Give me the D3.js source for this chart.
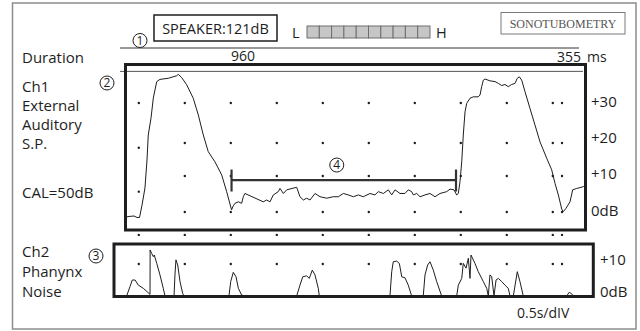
<!DOCTYPE html>
<html>
<head>
<meta charset="utf-8">
<script src="https://cdn.jsdelivr.net/npm/d3@7"></script>
<style>
  html, body { margin: 0; padding: 0; background: #fff; }
  svg { display: block; font-family: "Open Sans", sans-serif; }
</style>
</head>
<body>
<div id="chart"></div>
<script>
// ---- data ----
// Ch1: external auditory sound pressure, time in s, level in dB
const ch1Time = [0.000, 0.054, 0.098, 0.130, 0.158, 0.185, 0.217, 0.239, 0.253, 0.283,
  0.308, 0.345, 0.380, 0.471, 0.562, 0.579, 0.616, 0.671, 0.742, 0.797,
  0.851, 0.905, 0.978, 1.051, 1.105, 1.158, 1.177, 1.196, 1.232, 1.268,
  1.286, 1.304, 1.503, 1.540, 1.576, 1.612, 1.666, 1.685, 1.721, 1.758,
  1.866, 1.902, 1.938, 1.975, 2.011, 2.065, 2.120, 2.192, 2.264, 2.318,
  2.373, 2.427, 2.482, 2.536, 2.590, 2.663, 2.717, 2.753, 2.808, 2.862,
  2.899, 2.935, 2.989, 3.043, 3.079, 3.116, 3.134, 3.171, 3.207, 3.261,
  3.315, 3.370, 3.424, 3.497, 3.533, 3.576, 3.605, 3.623, 3.641, 3.660,
  3.677, 3.696, 3.714, 3.750, 3.786, 3.840, 3.859, 3.877, 3.895, 3.913,
  3.967, 4.022, 4.058, 4.095, 4.130, 4.166, 4.203, 4.239, 4.264, 4.286,
  4.312, 4.348, 4.402, 4.457, 4.511, 4.584, 4.638, 4.674, 4.710, 4.747,
  4.764, 4.793, 4.837, 4.866, 4.910, 4.946, 4.982, 5.008];
const ch1Db = [-1.4, -1.2, -1.1, -1.5, -1.5, 1.9, 6.6, 14.3, 21.2, 25.9,
  31.4, 35.9, 36.5, 36.8, 37.5, 37.9, 37.0, 35.0, 31.3, 26.7,
  21.2, 16.6, 13.8, 10.2, 5.6, 0.6, 1.7, 2.4, 2.8, 2.4,
  4.2, 5.1, 2.8, 3.3, 2.8, 4.7, 5.6, 6.5, 5.1, 6.1,
  6.8, 4.2, 3.3, 3.8, 3.3, 5.1, 4.2, 3.8, 4.2, 4.2,
  5.1, 4.7, 4.2, 4.7, 4.2, 5.1, 4.7, 5.6, 5.1, 6.1,
  4.7, 6.1, 5.1, 5.1, 6.1, 5.6, 4.7, 5.1, 4.2, 4.7,
  5.1, 4.2, 5.1, 5.6, 6.3, 6.1, 4.7, 5.1, 8.3, 13.8,
  21.2, 27.6, 29.9, 31.3, 31.7, 31.7, 32.2, 34.5, 36.3, 36.6,
  36.1, 35.9, 35.4, 34.8, 35.1, 34.5, 35.1, 35.4, 36.8, 37.2,
  36.3, 33.1, 28.5, 23.9, 19.3, 14.8, 11.6, 7.9, 4.7, 0.8,
  0.1, 1.0, 2.8, 6.1, 6.5, 6.7, 7.0, 7.2];

// Ch2: pharynx noise
const ch2Time = [0.018, 0.054, 0.079, 0.109, 0.145, 0.199, 0.242, 0.272, 0.273, 0.290,
  0.308, 0.318, 0.345, 0.380, 0.416, 0.435, 0.533, 0.543, 0.554, 0.573,
  0.598, 0.627, 0.641, 1.130, 1.149, 1.177, 1.207, 1.232, 1.268, 1.304,
  1.866, 1.902, 1.932, 1.975, 2.003, 2.036, 2.065, 2.101, 2.112, 2.880,
  2.899, 2.916, 2.953, 2.982, 3.008, 3.043, 3.079, 3.116, 3.242, 3.261,
  3.290, 3.315, 3.351, 3.388, 3.442, 3.605, 3.623, 3.660, 3.677, 3.707,
  3.732, 3.750, 3.761, 3.804, 3.840, 3.895, 3.932, 3.949, 3.967, 3.986,
  4.011, 4.033, 4.058, 4.095, 4.130, 4.166, 4.185, 4.221, 4.264, 4.293,
  4.329, 4.801, 4.829, 4.862, 4.873];
const ch2Db = [0, 2.9, 5.0, 5.0, 3.4, 2.4, 1.3, 0.5, 14.4, 13.3,
  12.3, 12.8, 10.2, 6.6, 2.4, 0, 0, 6.6, 11.3, 9.7,
  4.5, 0.8, 0, 0, 4.5, 7.4, 6.0, 2.4, 0.3, 0,
  0, 3.4, 6.0, 6.3, 5.5, 8.1, 6.6, 2.4, 0, 0,
  7.6, 10.7, 10.9, 10.2, 6.0, 5.7, 3.4, 0, 0, 6.6,
  9.7, 10.7, 8.1, 4.5, 0, 0, 3.4, 5.5, 10.2, 8.7,
  11.8, 5.5, 12.8, 10.2, 7.6, 4.5, 2.4, 0, 6.6, 6.0,
  0, 5.0, 5.5, 4.5, 3.4, 2.4, 0, 0, 7.6, 4.5,
  0, 0, 1.2, 0.5, 0];

// grid dots
const dotCols = [0.15, 0.65, 1.15, 1.65, 2.15, 2.65, 3.15, 3.65, 4.15, 4.65, 4.75];
const ch1DotRows = [0, 9.9, 19, 30];
const ch1FirstColRows = [5.6, 17.7, 30];
const gapDotRow = -6.3;
const ch2DotRows = [10];

// axis labels
const ch1Ticks = [30, 20, 10, 0];
const ch1TickLabels = ["+30", "+20", "+10", "0dB"];
const ch2Ticks = [10, 0];
const ch2TickLabels = ["+10", "0dB"];

// plateau-to-plateau interval (4)
const bracketStart = 1.158, bracketEnd = 3.598, bracketDb = 8.8;
const ceilingDb = 38.7;

const leftLabels1 = ["Ch1", "External", "Auditory", "S.P."];
const leftLabels2 = ["Ch2", "Phanynx", "Noise"];
const levelCells = 10;

// ---- drawing ----
const W = 640, H = 331;
const ink = "#1e1e1e";

const svg = d3.select("#chart").append("svg")
  .attr("width", W).attr("height", H)
  .attr("viewBox", `0 0 ${W} ${H}`);

svg.append("rect").attr("width", W).attr("height", H).attr("fill", "#fff");

const x = d3.scaleLinear().domain([0, 5]).range([125, 585]);
const y1 = d3.scaleLinear().domain([0, 30]).range([212, 103]);
const y2 = d3.scaleLinear().domain([0, 10]).range([296, 264]);

// outer frame
svg.append("rect")
  .attr("x", 12.5).attr("y", 3).attr("width", 623.5).attr("height", 326)
  .attr("fill", "none").attr("stroke", "#8c8c8c").attr("stroke-width", 1.5);

const circled = (cx, cy, num) => {
  svg.append("circle").attr("cx", cx).attr("cy", cy).attr("r", 7)
    .attr("fill", "none").attr("stroke", ink).attr("stroke-width", 1);
  svg.append("text").attr("x", cx).attr("y", cy + 4.2)
    .attr("text-anchor", "middle").attr("font-size", 12).attr("fill", ink)
    .text(num);
};

// header
circled(140, 40.5, "1");
svg.append("rect").attr("x", 154).attr("y", 15).attr("width", 123).attr("height", 26)
  .attr("fill", "none").attr("stroke", ink).attr("stroke-width", 1.5);
svg.append("text").attr("x", 215.5).attr("y", 33.5).attr("text-anchor", "middle")
  .attr("font-size", 14.5).attr("fill", ink).text("SPEAKER:121dB");
svg.append("text").attr("x", 292).attr("y", 37.5).attr("font-size", 14.5)
  .attr("fill", ink).text("L");
svg.append("text").attr("x", 436).attr("y", 37.5).attr("font-size", 14.5)
  .attr("fill", ink).text("H");

const cellX = d3.scaleBand().domain(d3.range(levelCells)).range([307, 430]);
svg.append("g").selectAll("rect").data(d3.range(levelCells)).join("rect")
  .attr("x", d => cellX(d)).attr("y", 26)
  .attr("width", cellX.bandwidth()).attr("height", 12)
  .attr("fill", "#c6c6c6").attr("stroke", "#6e6e6e").attr("stroke-width", 1);

svg.append("rect").attr("x", 501).attr("y", 12.5).attr("width", 124).attr("height", 21.5)
  .attr("fill", "none").attr("stroke", "#7a7a7a").attr("stroke-width", 1);
svg.append("text").attr("x", 563).attr("y", 27.5).attr("text-anchor", "middle")
  .attr("font-family", "'Liberation Serif', 'DejaVu Serif', serif")
  .attr("font-size", 12).attr("fill", "#555").text("SONOTUBOMETRY");

// duration line
svg.append("line").attr("x1", 120).attr("x2", 579).attr("y1", 48).attr("y2", 48)
  .attr("stroke", "#333").attr("stroke-width", 1);
svg.append("text").attr("x", 22).attr("y", 63).attr("font-size", 15)
  .attr("fill", ink).text("Duration");
svg.append("text").attr("x", 243).attr("y", 61).attr("text-anchor", "middle")
  .attr("font-size", 14).attr("fill", ink).text("960");
svg.append("text").attr("x", 557).attr("y", 62).attr("font-size", 14)
  .attr("fill", ink).text("355");
svg.append("text").attr("x", 587).attr("y", 62).attr("font-size", 14)
  .attr("fill", ink).text("ms");

// left labels
svg.append("g").selectAll("text").data(leftLabels1).join("text")
  .attr("x", 22).attr("y", (d, i) => 92 + i * 19)
  .attr("font-size", 15).attr("fill", ink).text(d => d);
svg.append("text").attr("x", 22).attr("y", 198).attr("font-size", 15)
  .attr("fill", ink).text("CAL=50dB");
svg.append("g").selectAll("text").data(leftLabels2).join("text")
  .attr("x", 22).attr("y", (d, i) => 257 + i * 20)
  .attr("font-size", 15).attr("fill", ink).text(d => d);
circled(107, 83, "2");
circled(96, 256, "3");

// ---- Ch1 panel ----
svg.append("line")
  .attr("x1", x(-0.054)).attr("x2", x(4.978))
  .attr("y1", y1(ceilingDb)).attr("y2", y1(ceilingDb))
  .attr("stroke", "#555").attr("stroke-width", 1);

const dots1 = [];
dotCols.forEach((c, i) => {
  const rows = i === 0 ? ch1FirstColRows : ch1DotRows;
  rows.forEach(r => dots1.push([c, r]));
});
svg.append("g").selectAll("circle").data(dots1).join("circle")
  .attr("cx", d => x(d[0])).attr("cy", d => y1(d[1])).attr("r", 1.2).attr("fill", ink);
svg.append("g").selectAll("circle").data(dotCols).join("circle")
  .attr("cx", d => x(d)).attr("cy", y1(gapDotRow)).attr("r", 1.2).attr("fill", ink);

const line1 = d3.line().x(d => x(d[0])).y(d => y1(d[1]));
svg.append("path").datum(d3.zip(ch1Time, ch1Db))
  .attr("d", line1).attr("fill", "none").attr("stroke", ink)
  .attr("stroke-width", 1).attr("stroke-linejoin", "round");

// bracket (4)
const by = y1(bracketDb);
const bracket = svg.append("g").attr("stroke", "#333").attr("stroke-width", 2.2);
bracket.append("line").attr("x1", x(bracketStart)).attr("x2", x(bracketEnd))
  .attr("y1", by).attr("y2", by);
[bracketStart, bracketEnd].forEach(t => {
  bracket.append("line").attr("x1", x(t)).attr("x2", x(t))
    .attr("y1", by - 10.5).attr("y2", by + 11.5);
});
circled(x((bracketStart + bracketEnd) / 2) - 7, by - 15, "4");

svg.append("rect").attr("x", 125.5).attr("y", 64.5).attr("width", 460).attr("height", 165.5)
  .attr("fill", "none").attr("stroke", ink).attr("stroke-width", 3);

const ax1 = svg.append("g").attr("transform", "translate(591,0)")
  .call(d3.axisRight(y1).tickValues(ch1Ticks).tickSize(0).tickPadding(0)
    .tickFormat((d, i) => ch1TickLabels[i]));
ax1.select(".domain").remove();
ax1.selectAll("text").attr("font-size", 15).attr("font-family", "'Open Sans', sans-serif")
  .attr("fill", ink).attr("dy", "0.2em");

// ---- Ch2 panel ----
svg.append("g").selectAll("circle").data(dotCols).join("circle")
  .attr("cx", d => x(d)).attr("cy", y2(ch2DotRows[0])).attr("r", 1.2).attr("fill", ink);

const line2 = d3.line().x(d => x(d[0])).y(d => y2(d[1]));
svg.append("path").datum(d3.zip(ch2Time, ch2Db))
  .attr("d", line2).attr("fill", "none").attr("stroke", ink)
  .attr("stroke-width", 1).attr("stroke-linejoin", "round");

svg.append("rect").attr("x", 114).attr("y", 244).attr("width", 479.3).attr("height", 52.5)
  .attr("fill", "none").attr("stroke", ink).attr("stroke-width", 3);

const ax2 = svg.append("g").attr("transform", "translate(600,0)")
  .call(d3.axisRight(y2).tickValues(ch2Ticks).tickSize(0).tickPadding(0)
    .tickFormat((d, i) => ch2TickLabels[i]));
ax2.select(".domain").remove();
ax2.selectAll("text").attr("font-size", 15).attr("font-family", "'Open Sans', sans-serif")
  .attr("fill", ink).attr("dy", "0em");

svg.append("text").attr("x", 517).attr("y", 318).attr("font-size", 14)
  .attr("fill", ink).text("0.5s/dIV");
</script>
</body>
</html>
